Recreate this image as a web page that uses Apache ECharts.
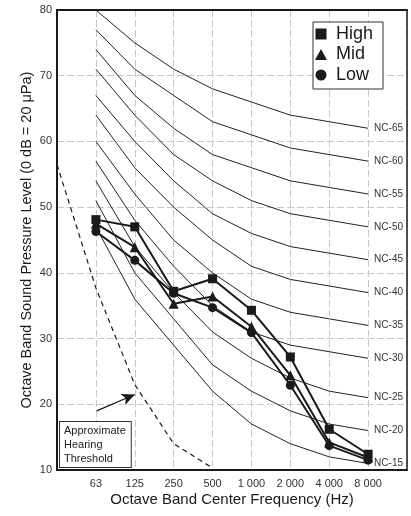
<!DOCTYPE html>
<html lang="en">
<head>
    <meta charset="UTF-8">
    <title>NC curves</title>
    <script src="https://cdn.jsdelivr.net/npm/echarts@6/dist/echarts.min.js"></script>
</head>
<body style="margin:0; background:#fff;">
<div id="main" style="width: 411px; height: 516px;"></div>
<script type="text/javascript">
    // octave band centres, plotted at positions 1..8 (0 and 9 are the empty margins)
    const freqLabels = ['63', '125', '250', '500', '1 000', '2 000', '4 000', '8 000'];

    const ncNames = ['NC-65', 'NC-60', 'NC-55', 'NC-50', 'NC-45', 'NC-40', 'NC-35', 'NC-30', 'NC-25', 'NC-20', 'NC-15'];
    const ncValues = [
        [80, 75, 71, 68, 66, 64, 63, 62],
        [77, 71, 67, 63, 61, 59, 58, 57],
        [74, 67, 62, 58, 56, 54, 53, 52],
        [71, 64, 58, 54, 51, 49, 48, 47],
        [67, 60, 54, 49, 46, 44, 43, 42],
        [64, 56, 50, 45, 41, 39, 38, 37],
        [60, 52, 45, 40, 36, 34, 33, 32],
        [57, 48, 41, 35, 31, 29, 28, 27],
        [54, 44, 37, 31, 27, 24, 22, 21],
        [51, 40, 33, 26, 22, 19, 17, 16],
        [47, 36, 29, 22, 17, 14, 12, 11]
    ];

    const highValues = [48.1, 47.0, 37.2, 39.1, 34.3, 27.2, 16.2, 12.4];
    const midValues = [47.5, 43.9, 35.3, 36.4, 31.8, 24.4, 14.2, 11.9];
    const lowValues = [46.3, 41.9, 36.9, 34.7, 30.9, 22.9, 13.7, 11.5];

    // hearing threshold, positions 0..4 (31.5 Hz .. 500 Hz)
    const thresholdPos = [0, 1, 2, 3, 4];
    const thresholdValues = [56.5, 37.7, 23, 14, 10.3];

    const yTicks = [10, 20, 30, 40, 50, 60, 70, 80];

    const FONT = 'Liberation Sans, Arial, Helvetica, sans-serif';
    const INK = '#1a1a1a';

    function toPoints(vals) {
        return vals.map(function (v, i) { return [i + 1, v]; });
    }

    let series = [];
    ncNames.forEach(function (name, k) {
        series.push({
            name: name,
            type: 'line',
            data: toPoints(ncValues[k]),
            showSymbol: false,
            silent: true,
            z: 2,
            lineStyle: {color: '#222', width: 1},
            endLabel: {
                show: true,
                formatter: name,
                distance: 6,
                fontFamily: FONT,
                fontSize: 10,
                color: '#333'
            }
        });
    });

    series.push({
        name: 'threshold',
        type: 'line',
        data: thresholdPos.map(function (p, i) { return [p, thresholdValues[i]]; }),
        showSymbol: false,
        silent: true,
        z: 2,
        lineStyle: {color: INK, width: 1.2, type: [5, 4]},
        markLine: {
            silent: true,
            symbol: ['none', 'arrow'],
            symbolSize: [9, 13],
            label: {show: false},
            lineStyle: {color: INK, width: 1.2, type: 'solid'},
            data: [[{coord: [1.02, 19.0]}, {coord: [2.0, 21.5]}]]
        }
    });

    const bands = [
        {name: 'High', vals: highValues, symbol: 'rect', size: 9},
        {name: 'Mid', vals: midValues, symbol: 'triangle', size: 10},
        {name: 'Low', vals: lowValues, symbol: 'circle', size: 9}
    ];
    bands.forEach(function (b, k) {
        series.push({
            name: b.name,
            type: 'line',
            data: toPoints(b.vals),
            symbol: b.symbol,
            symbolSize: b.size,
            showAllSymbol: true,
            z: 3 + k,
            lineStyle: {color: INK, width: 2},
            itemStyle: {color: INK}
        });
    });

    let myChart = echarts.init(document.getElementById('main'));
    const option = {
        animation: false,
        grid: {left: 57, right: 4, top: 10, bottom: 46},
        legend: {
            data: [
                {name: 'High', icon: 'path://M0,0H10V10H0Z'},
                {name: 'Mid', icon: 'path://M6,0L12,11H0Z'},
                {name: 'Low', icon: 'path://M0,5A5,5 0 1,1 10,5A5,5 0 1,1 0,5Z'}
            ],
            orient: 'vertical',
            left: 313,
            top: 22,
            itemWidth: 20,
            itemHeight: 11,
            itemGap: 2.5,
            padding: [3, 10, 5, 2],
            borderColor: '#333',
            borderWidth: 1,
            backgroundColor: '#fff',
            textStyle: {fontFamily: FONT, fontSize: 18, color: INK}
        },
        xAxis: [{
            type: 'value',
            min: 0,
            max: 9,
            interval: 1,
            name: 'Octave Band Center Frequency (Hz)',
            nameLocation: 'middle',
            nameGap: 22,
            nameMoveOverlap: false,
            nameTextStyle: {fontFamily: FONT, fontSize: 15, color: INK},
            axisLine: {lineStyle: {color: INK, width: 2}},
            axisTick: {show: false},
            axisLabel: {
                margin: 8,
                fontFamily: FONT,
                fontSize: 11,
                color: '#333',
                formatter: function (v) {
                    return (v >= 1 && v <= 8) ? freqLabels[v - 1] : '';
                }
            },
            splitLine: {lineStyle: {color: '#c8c8c8', width: 1, type: [7, 3]}}
        }, {
            type: 'value',
            position: 'top',
            min: 0,
            max: 9,
            axisLine: {show: true, onZero: false, lineStyle: {color: INK, width: 2}},
            axisTick: {show: false},
            axisLabel: {show: false},
            splitLine: {show: false}
        }],
        yAxis: [{
            type: 'value',
            min: yTicks[0],
            max: yTicks[yTicks.length - 1],
            interval: 10,
            name: 'Octave Band Sound Pressure Level (0 dB = 20 \u03bcPa)',
            nameLocation: 'middle',
            nameGap: 23,
            nameMoveOverlap: false,
            nameTextStyle: {fontFamily: FONT, fontSize: 14.5, color: INK},
            axisLine: {show: true, lineStyle: {color: INK, width: 2}},
            axisTick: {show: false},
            axisLabel: {margin: 5, fontFamily: FONT, fontSize: 11, color: '#333'},
            splitLine: {lineStyle: {color: '#c8c8c8', width: 1, type: [7, 3]}}
        }, {
            type: 'value',
            position: 'right',
            min: yTicks[0],
            max: yTicks[yTicks.length - 1],
            axisLine: {show: true, onZero: false, lineStyle: {color: INK, width: 1.5}},
            axisTick: {show: false},
            axisLabel: {show: false},
            splitLine: {show: false}
        }],
        graphic: [{
            type: 'text',
            left: 59,
            top: 421,
            z: 10,
            style: {
                text: 'Approximate\nHearing\nThreshold',
                font: '11px ' + FONT,
                fill: '#222',
                lineHeight: 14,
                padding: [2, 5, 1, 4],
                backgroundColor: '#fff',
                borderColor: '#333',
                borderWidth: 1
            }
        }],
        series: series
    };
    myChart.setOption(option);
</script>
</body>
</html>
